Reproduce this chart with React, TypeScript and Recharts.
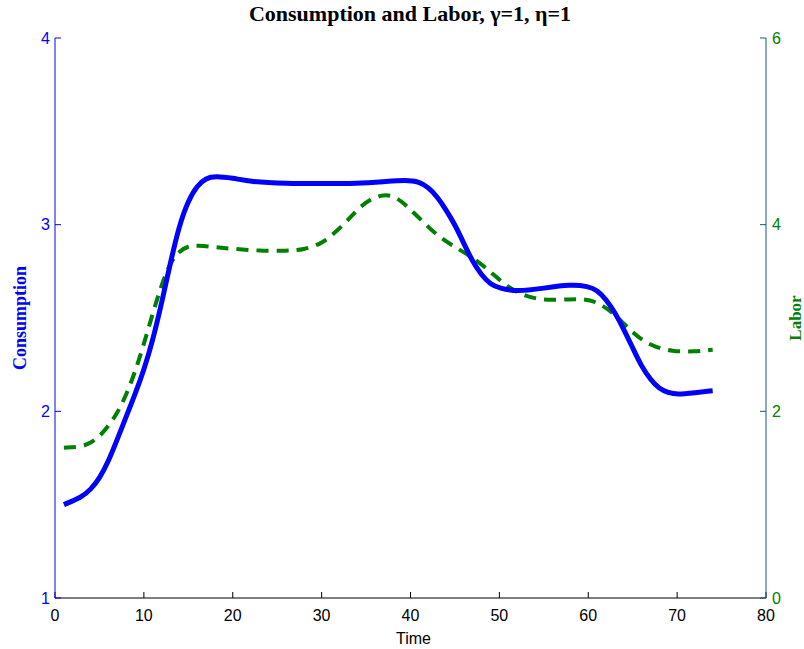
import { LineChart, Line, XAxis, YAxis } from 'recharts'

const timeTicks = [0, 10, 20, 30, 40, 50, 60, 70, 80]
const consumptionTicks = [1, 2, 3, 4]
const laborTicks = [0, 2, 4, 6]

const consumptionTime = [1, 3, 4, 5, 6, 7, 8, 9, 10, 11, 12, 13, 14, 15, 16, 17, 18, 20, 22, 26, 30, 34, 37, 39.5, 41, 42, 43, 44, 45, 46, 47, 48, 49, 50, 52, 55, 58, 60, 61, 62, 63, 64, 65, 66, 67, 68, 69, 70, 72, 74]
const consumptionValues = [1.5, 1.54, 1.58, 1.64, 1.73, 1.85, 1.97, 2.09, 2.22, 2.38, 2.58, 2.8, 3.0, 3.13, 3.21, 3.25, 3.26, 3.25, 3.23, 3.22, 3.22, 3.22, 3.23, 3.24, 3.23, 3.2, 3.15, 3.08, 3.0, 2.9, 2.8, 2.73, 2.68, 2.66, 2.64, 2.66, 2.68, 2.67, 2.65, 2.6, 2.53, 2.44, 2.34, 2.24, 2.17, 2.12, 2.1, 2.09, 2.1, 2.11]

const laborTime = [1, 3, 4, 5, 6, 7, 8, 9, 10, 11, 12, 13, 14, 15, 16, 18, 20, 23, 26, 28, 30, 31, 33, 34, 35.5, 37, 38, 39, 40, 41, 43, 45, 47.5, 49.5, 51.5, 54, 56.5, 59, 61, 63, 65, 67, 69.5, 72, 74]
const laborValues = [1.61, 1.62, 1.66, 1.73, 1.84, 1.98, 2.17, 2.42, 2.72, 3.05, 3.36, 3.6, 3.72, 3.77, 3.78, 3.76, 3.74, 3.72, 3.72, 3.73, 3.8, 3.87, 4.05, 4.16, 4.28, 4.32, 4.31, 4.25, 4.16, 4.07, 3.88, 3.76, 3.62, 3.45, 3.29, 3.2, 3.19, 3.21, 3.18, 3.04, 2.84, 2.7, 2.64, 2.64, 2.66]

const consumption = consumptionTime.map((t, i) => ({ t, c: consumptionValues[i] }))
const labor = laborTime.map((t, i) => ({ t, l: laborValues[i] }))

const sans = '"Liberation Sans", Arial, sans-serif'
const serif = '"Liberation Serif", "Times New Roman", serif'
const blue = '#0000ff'
const green = '#008000'
const teal = '#155a75'

const TimeLabel = (props: any) => {
  const { x, y, width } = props.viewBox
  return (
    <text x={x + width / 2 + 3} y={y + 46} textAnchor="middle" fontFamily={sans} fontSize={16} fill="#000">
      Time
    </text>
  )
}

const ConsumptionLabel = (props: any) => {
  const { y, height } = props.viewBox
  const cx = 20
  const cy = y + height / 2
  return (
    <text x={cx} y={cy} transform={`rotate(-90 ${cx} ${cy})`} textAnchor="middle" dominantBaseline="central"
      fontFamily={serif} fontWeight="bold" fontSize={18} fill={blue}>
      Consumption
    </text>
  )
}

const LaborLabel = (props: any) => {
  const { y, height } = props.viewBox
  const cx = 795
  const cy = y + height / 2
  return (
    <text x={cx} y={cy} transform={`rotate(-90 ${cx} ${cy})`} textAnchor="middle" dominantBaseline="central"
      fontFamily={serif} fontWeight="bold" fontSize={17} fill={green}>
      Labor
    </text>
  )
}

export default function App() {
  return (
    <div style={{ position: 'absolute', left: 0, top: 0, width: 804, height: 649, background: '#fff' }}>
      <div style={{ position: 'absolute', left: 0, top: 0, width: 820, textAlign: 'center', fontFamily: serif, fontWeight: 'bold', fontSize: 22, lineHeight: '28px', color: '#000' }}>
        Consumption and Labor, γ=1, η=1
      </div>
      <LineChart width={804} height={649} margin={{ top: 38, right: 0, bottom: 21, left: 0 }}>
        <XAxis xAxisId="bottom" dataKey="t" type="number" domain={[0, 80]} ticks={timeTicks} interval={0}
          height={30} stroke="#000" tickSize={-6} tickMargin={18}
          tick={{ fill: '#000', fontSize: 16, fontFamily: sans }}
          label={{ content: TimeLabel }} />
        <XAxis xAxisId="top" orientation="top" dataKey="t" type="number" domain={[0, 80]} ticks={timeTicks} interval={0}
          height={0} stroke="#000" tickSize={-6} tick={false} />
        <YAxis yAxisId="c" type="number" domain={[1, 4]} ticks={consumptionTicks} interval={0}
          width={55} stroke={blue} tickSize={-6} tickMargin={11}
          tick={{ fill: blue, fontSize: 16, fontFamily: sans }}
          label={{ content: ConsumptionLabel }} />
        <YAxis yAxisId="l" orientation="right" type="number" domain={[0, 6]} ticks={laborTicks} interval={0}
          width={38} stroke={teal} tickSize={-6} tickMargin={12}
          tick={{ fill: green, fontSize: 16, fontFamily: sans }}
          label={{ content: LaborLabel }} />
        <Line xAxisId="bottom" yAxisId="l" data={labor} dataKey="l" type="basis" stroke={green} strokeWidth={4}
          strokeDasharray="12 8" dot={false} isAnimationActive={false} />
        <Line xAxisId="bottom" yAxisId="c" data={consumption} dataKey="c" type="basis" stroke={blue} strokeWidth={5}
          dot={false} isAnimationActive={false} />
      </LineChart>
    </div>
  )
}
